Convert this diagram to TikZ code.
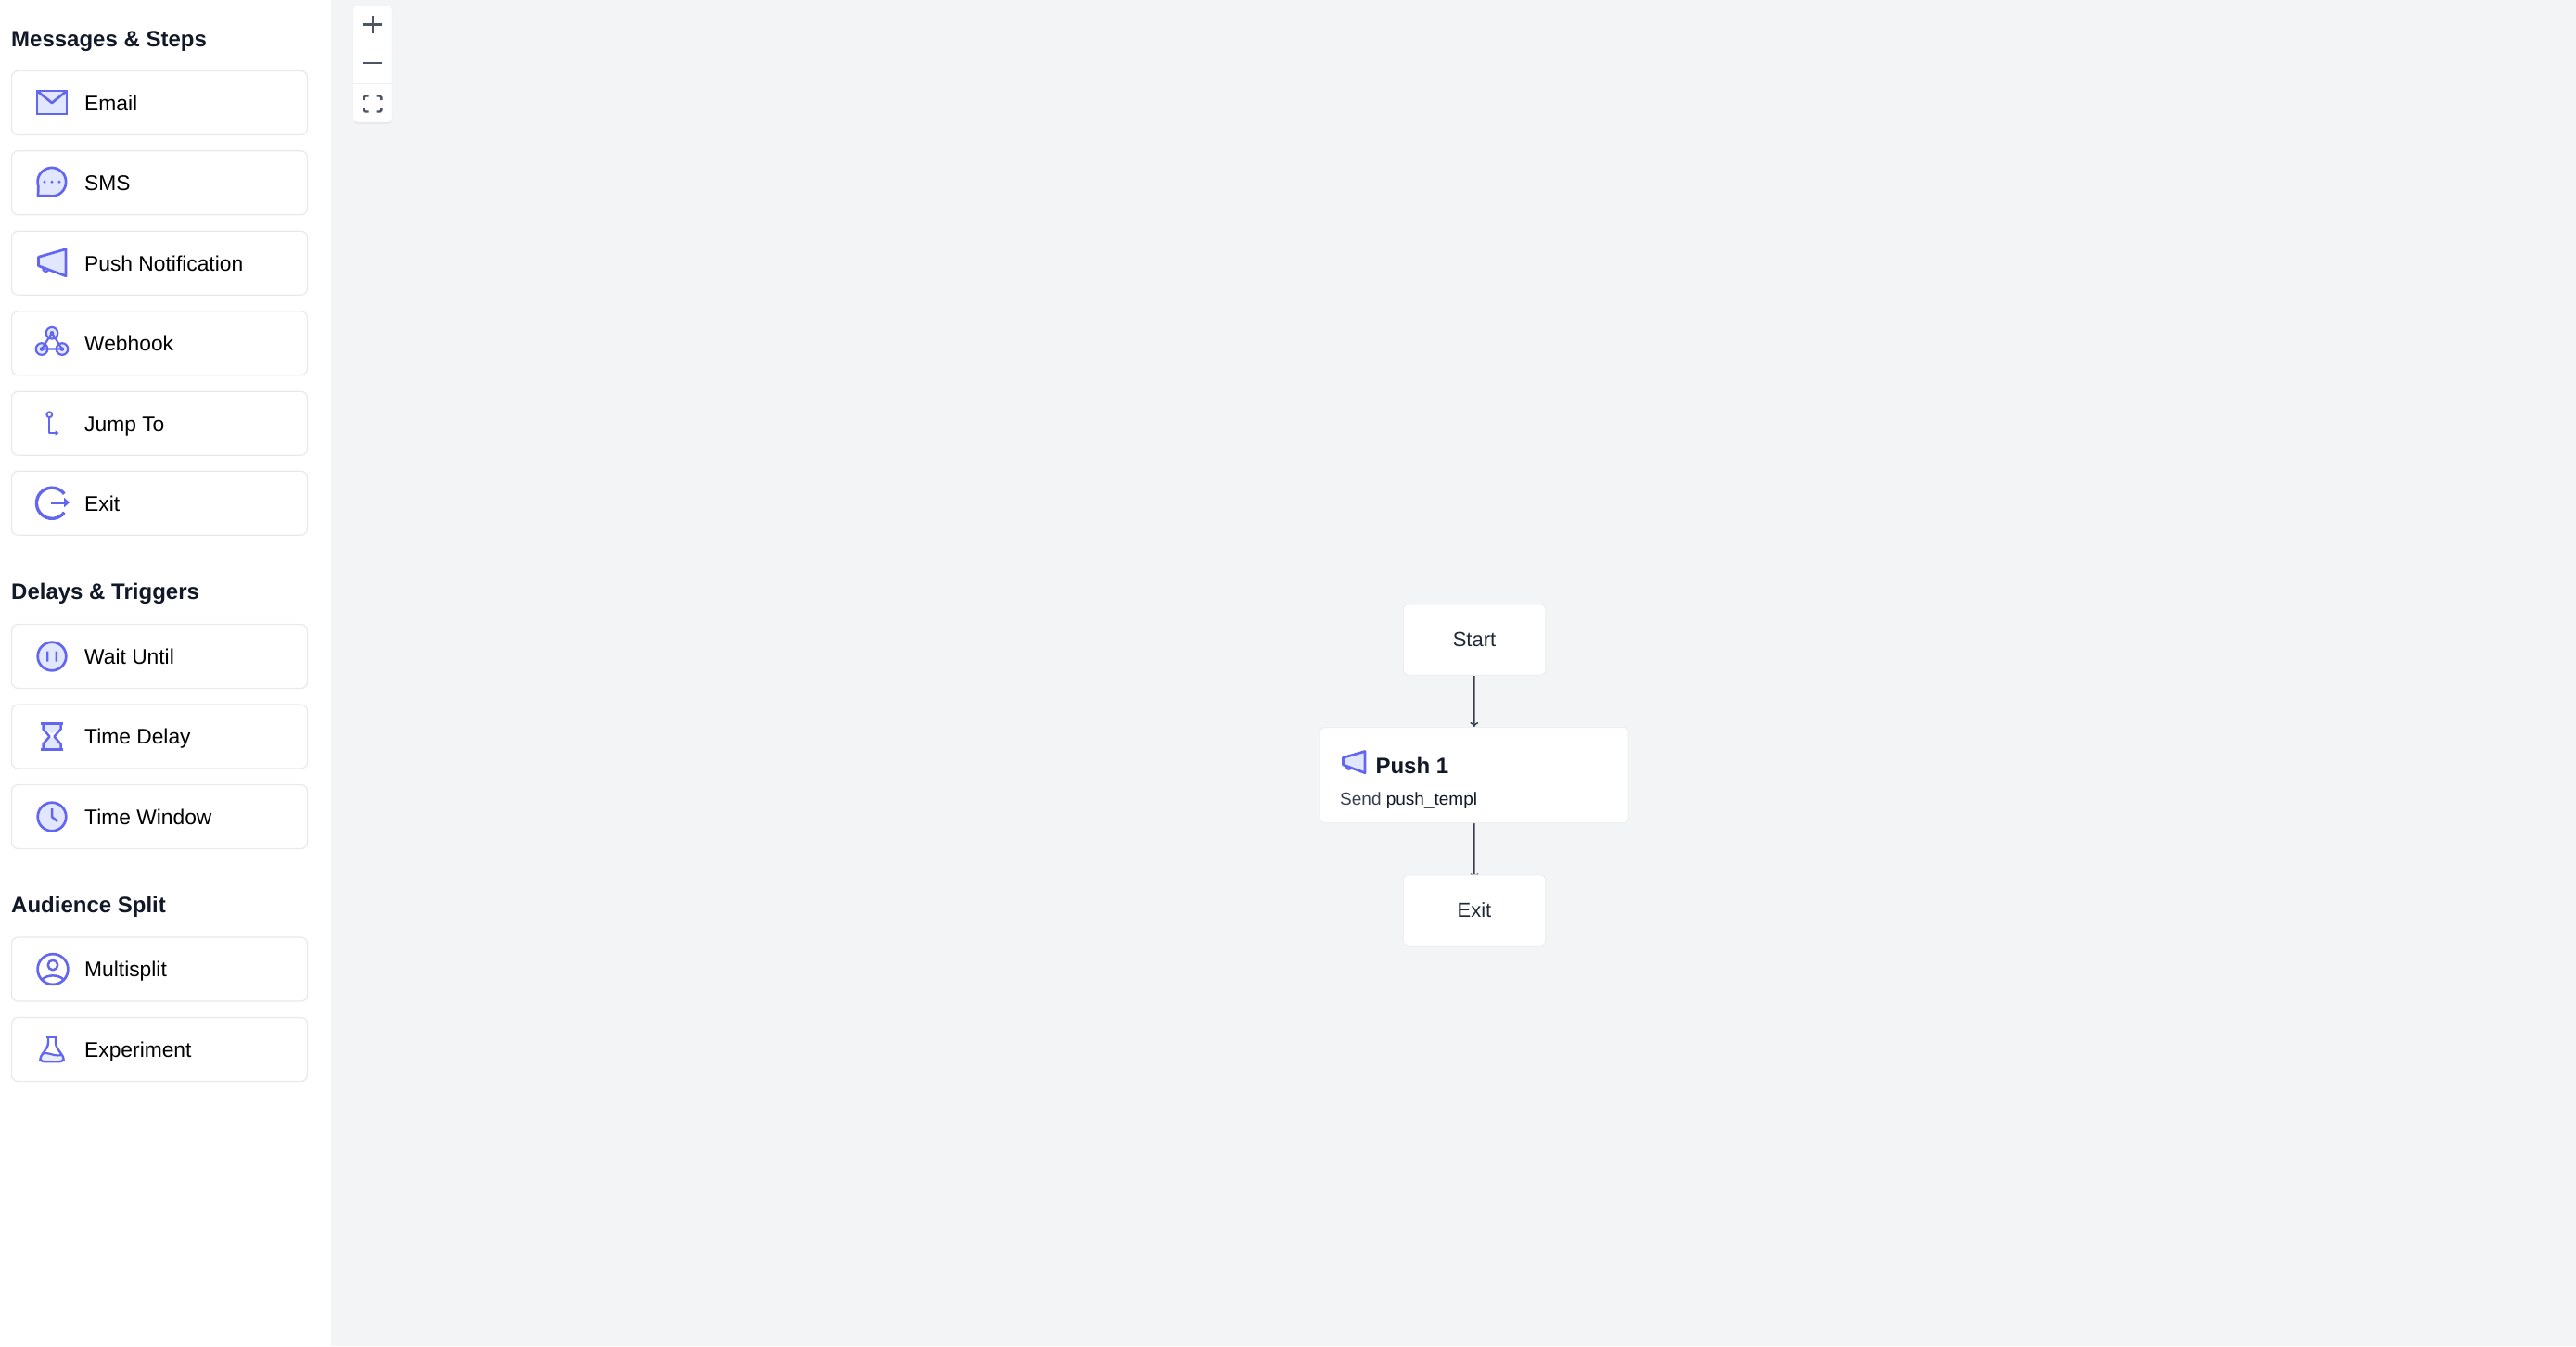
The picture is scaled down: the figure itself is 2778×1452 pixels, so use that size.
\documentclass[tikz,border=0pt]{standalone}
\usepackage{fontspec}
\setmainfont{Liberation Sans}
\usetikzlibrary{arrows.meta,backgrounds,calc,shadows}
\definecolor{canvasgray}{HTML}{F3F4F6}
\definecolor{cardline}{HTML}{E8E9ED}
\definecolor{nodeline}{HTML}{ECEEF1}
\definecolor{iconblue}{HTML}{6366F1}
\definecolor{iconpale}{HTML}{E0E7FF}
\definecolor{headink}{HTML}{111827}
\definecolor{nodeink}{HTML}{1F2937}
\definecolor{edgeink}{HTML}{374151}
\definecolor{zoomink}{HTML}{4B5563}
\tikzset{
	every pic/.style={yscale=-1},
	iconline/.style={draw=iconblue,line width=2.7pt,line join=round},
	iconfill/.style={iconline,fill=iconpale},
	pics/iconmail/.style={code={
		\draw[iconfill,line join=miter] (-16,-13) rectangle (16,12);
		\draw[iconline] (-16,-13) -- (0,0) -- (16,-13);
	}},
	pics/iconsms/.style={code={
		\draw[iconfill] (-14.6,4) arc (161:461:15.3) -- (-15,14) -- cycle;
		\fill[iconblue] (-8,-1) circle (1.7) (0,-1) circle (1.7) (8,-1) circle (1.7);
	}},
	pics/iconpush/.style={code={
		\draw[iconfill] (15,-15) -- (15,14) -- (-14.5,3) -- (-14.5,-6.5) -- cycle;
		\draw[iconline,line width=2.2pt] (-3.5,7) arc (20:200:3.3);
	}},
	pics/iconhook/.style={code={
		\foreach \hookx/\hooky in {0/-11,-11/6.3,11/6.3}
		\draw[iconline,fill=iconpale,line width=2.2pt] (\hookx,\hooky) circle (6.3);
		\draw[iconline,line width=2.2pt] (0,-11) -- (-11,6.3) -- (11,6.3) -- cycle;
		\foreach \hookx/\hooky in {0/-11,-11/6.3,11/6.3}
		\fill[iconblue] (\hookx,\hooky) circle (2.3);
	}},
	pics/iconjump/.style={code={
		\draw[iconline,line width=2.2pt] (-2.7,-6.5) -- (-2.7,10.3) -- (5,10.3);
		\draw[iconline,line width=2pt,fill=white] (-2.7,-9.5) circle (2.9);
		\fill[iconblue] (3.5,7.5) -- (7.5,10.3) -- (3.5,13) -- cycle;
	}},
	pics/iconexit/.style={code={
		\draw[draw=iconblue,line width=3.4pt] (13.3,-10) arc (-37:-323:16.6);
		\draw[draw=iconblue,line width=3pt] (-1,-0.7) -- (16,-0.7);
		\fill[iconblue] (13,-6) -- (19,-0.7) -- (13,4.6) -- cycle;
	}},
	pics/iconwait/.style={code={
		\draw[iconfill] (0,0) circle (15.3);
		\fill[iconblue] (-6,-5.5) rectangle (-3.6,5.5) (3.6,-5.5) rectangle (6,5.5);
	}},
	pics/icondelay/.style={code={
		\fill[iconpale] (-2,1) -- (-10,8) -- (-10,14) -- (10,14) -- (10,8) -- (2,1) -- cycle;
		\fill[iconpale] (-9,-14) -- (9,-14) -- (9,-9) -- (0,-3) -- (-9,-9) -- cycle;
		\draw[iconline,line width=2.5pt] (-9.5,-14) -- (-9.5,-8) -- (-2.5,0) -- (-9.5,8) -- (-9.5,14);
		\draw[iconline,line width=2.5pt] (9.5,-14) -- (9.5,-8) -- (2.5,0) -- (9.5,8) -- (9.5,14);
		\draw[iconline] (-12.2,-14) -- (12.2,-14) (-12.2,14) -- (12.2,14);
	}},
	pics/iconclock/.style={code={
		\draw[iconfill] (0,0) circle (15.3);
		\draw[iconline,line width=2.5pt] (0,-9) -- (0,0) -- (6,5);
	}},
	pics/iconuser/.style={code={
		\draw[iconline,fill=white] (1,0) circle (16.4);
		\draw[iconline,line width=2.5pt] (1,-4.5) circle (5.3);
		\draw[iconline,line width=2.5pt] (-10.5,11) .. controls (-5,5.5) and (7,5.5) .. (12.5,11);
	}},
	pics/iconflask/.style={code={
		\fill[iconpale!70] (-11,5.5) .. controls (-5,2) and (4,9) .. (11,5.5) -- (13,9) -- (10,13) -- (-10,13) -- (-13,9) -- cycle;
		\draw[iconline,line width=2.4pt,rounded corners=3pt] (-4,-13) -- (-4,-4) -- (-13.5,10) -- (-11,13.2) -- (11,13.2) -- (13.5,10) -- (4,-4) -- (4,-13);
		\draw[iconline,line width=2.4pt] (-6,-13.3) -- (6,-13.3);
		\draw[iconline,line width=2.2pt] (-11,5) .. controls (-5,1.5) and (4,9) .. (11,5.5);
	}},
}
\begin{document}
\begin{tikzpicture}
		[x=1pt,y=1pt,yscale=-1,
		card/.style={draw=cardline,line width=1.2pt,fill=white,rounded corners=7pt,minimum width=319pt,minimum height=69pt,inner sep=0pt},
		cardtext/.style={anchor=base west,inner sep=0pt,text=black,font=\fontsize{22.8}{28}\selectfont},
		sectiontitle/.style={anchor=base west,inner sep=0pt,text=headink,font=\fontsize{24}{30}\selectfont\bfseries},
		flowbox/.style={draw=nodeline,line width=1pt,fill=white,rounded corners=6pt,inner sep=0pt},
		flowtext/.style={text=nodeink,inner sep=0pt,font=\fontsize{22}{26}\selectfont},
		edge/.style={draw=edgeink,line width=1.5pt,-{To[length=5pt,width=9pt]}},
		zoomsign/.style={draw=zoomink,line width=2.8pt},
		]
		\useasboundingbox (0,0) rectangle (2778,1452);
		\begin{scope}[on background layer]
			\fill[white] (0,0) rectangle (2778,1452);
			\fill[canvasgray] (357,0) rectangle (2778,1452);
		\end{scope}
		
		\node[sectiontitle] (messages) at (12,50) {Messages \& Steps};
		\node[sectiontitle] (delays) at (12,646) {Delays \& Triggers};
		\node[sectiontitle] (audience) at (12,984) {Audience Split};
		
		\foreach \cname/\ypos/\icon/\caption in {email/111/iconmail/Email,sms/197.25/iconsms/SMS,pushnote/283.75/iconpush/Push Notification,webhook/370.25/iconhook/Webhook,jump/456.75/iconjump/Jump To,exititem/542.75/iconexit/Exit,wait/708/iconwait/Wait Until,delay/794.5/icondelay/Time Delay,window/881/iconclock/Time Window,multi/1045.5/iconuser/Multisplit,experiment/1132/iconflask/Experiment}{
			\node[card] (\cname) at (172,\ypos) {};
			\node[cardtext] (\cname text) at ($(\cname.center)+(-81,8.3)$) {\caption};
			\pic at ($(\cname.center)+(-116,0)$) {\icon};
		}
		
		\node[draw=nodeline,fill=white,rounded corners=4pt,minimum width=42pt,minimum height=126pt,inner sep=0pt,drop shadow={opacity=.12,shadow xshift=0pt,shadow yshift=-1.5pt}] (zoombar) at (402,69) {};
		\coordinate (zoomin) at (402,26.5);
		\coordinate (zoomout) at (402,68);
		\coordinate (zoomfit) at (402,112);
		\draw[nodeline,line width=1.2pt] (381,47.5) -- (423,47.5) (381,90) -- (423,90);
		\draw[zoomsign] ($(zoomin)+(-10,0)$) -- ($(zoomin)+(10,0)$) ($(zoomin)+(0,-9.5)$) -- ($(zoomin)+(0,9.5)$);
		\draw[zoomsign] ($(zoomout)+(-10,0)$) -- ($(zoomout)+(10,0)$);
		\foreach \sx/\sy in {1/1,1/-1,-1/1,-1/-1}
		\draw[zoomsign,line width=2.4pt,rounded corners=1.5pt] ($(zoomfit)+(\sx*4.5,\sy*8.5)$) -- ($(zoomfit)+(\sx*9.3,\sy*8.5)$) -- ($(zoomfit)+(\sx*9.3,\sy*4)$);
		
		\node[flowbox,minimum width=153.5pt,minimum height=76.5pt] (start) at (1590,690) {};
		\node[flowbox,minimum width=333pt,minimum height=103pt] (push1) at (1589.7,836) {};
		\node[flowbox,minimum width=153.5pt,minimum height=76.5pt] (exit1) at (1590,982) {};
		\node[flowtext] (starttext) at (start.center) {Start};
		\node[flowtext] (exittext) at (exit1.center) {Exit};
		\node[anchor=base west,inner sep=0pt,text=headink,font=\fontsize{24}{30}\selectfont\bfseries] (push1title) at (1483.3,834) {Push 1};
		\node[anchor=base west,inner sep=0pt,text=edgeink,font=\fontsize{19}{24}\selectfont] (push1send) at (1445,868.5) {Send \textcolor{headink}{push\_templ}};
		\pic[scale=0.8] at (1460,822.5) {iconpush};
		
		\begin{scope}[on background layer]
			\draw[edge] (start) -- (push1);
			\draw[edge,shorten >=-4pt] (push1) -- (exit1);
		\end{scope}
		\end{tikzpicture}
\end{document}
